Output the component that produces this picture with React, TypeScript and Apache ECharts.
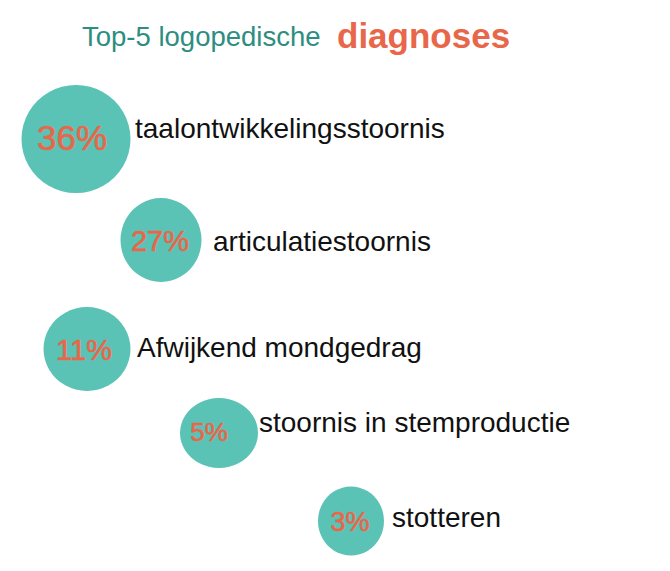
import React, { useEffect, useRef } from "react";
import * as echarts from "echarts";

// ---- data ----
const categories = [
  "taalontwikkelingsstoornis",
  "articulatiestoornis",
  "Afwijkend mondgedrag",
  "stoornis in stemproductie",
  "stotteren",
];
const percentages = [36, 27, 11, 5, 3];
const titleMain = "Top-5 logopedische";
const titleAccent = "diagnoses";

// ---- layout (pixel-units of the hidden axes) ----
const bubbleX = [76, 161, 87, 219, 351];
const bubbleY = [139, 240, 349, 433, 521];
const bubbleW = [109, 81, 87, 78, 66];
const bubbleH = [108, 84, 84, 70, 69];
const pctX = [72, 160, 84, 209, 350];
const pctY = [137, 240.5, 350, 432, 522];
const pctFont = [35, 29, 29, 26, 27];
const labelX = [135, 213, 137, 259, 392];
const labelY = [128.5, 241.5, 347.5, 422.5, 517.5];

const W = 670;
const H = 571;
const FONT = "'Liberation Sans', Arial, Helvetica, sans-serif";
const TEAL = "#5bc2b6";
const TEAL_DARK = "#2e8d81";
const ORANGE = "#e8674a";

export default function App() {
  const ref = useRef<HTMLDivElement>(null);

  useEffect(() => {
    if (!ref.current) return;
    const chart = echarts.init(ref.current, undefined, { renderer: "svg" });

    const option = {
      animation: false,
      backgroundColor: "#ffffff",
      grid: { left: 0, right: 0, top: 0, bottom: 0 },
      xAxis: { type: "value", min: 0, max: W, show: false },
      yAxis: { type: "value", min: 0, max: H, inverse: true, show: false },
      graphic: [
        {
          type: "text",
          x: 82,
          y: 36.5,
          style: {
            text: titleMain,
            fill: TEAL_DARK,
            font: `normal 27.5px ${FONT}`,
            align: "left",
            verticalAlign: "middle",
          },
        },
        {
          type: "text",
          x: 337,
          y: 35,
          style: {
            text: titleAccent,
            fill: ORANGE,
            font: `bold 35px ${FONT}`,
            align: "left",
            verticalAlign: "middle",
          },
        },
      ],
      series: [
        {
          type: "scatter",
          silent: true,
          symbol: "circle",
          data: percentages.map((v, i) => ({
            name: categories[i],
            value: [bubbleX[i], bubbleY[i], v],
            symbolSize: [bubbleW[i], bubbleH[i]],
          })),
          itemStyle: { color: TEAL, opacity: 1 },
          z: 1,
        },
        {
          type: "scatter",
          silent: true,
          symbolSize: 0,
          data: percentages.map((v, i) => ({
            name: categories[i],
            value: [pctX[i], pctY[i], v],
            label: { fontSize: pctFont[i] },
          })),
          itemStyle: { color: ORANGE, opacity: 1 },
          label: {
            show: true,
            position: "inside",
            formatter: (p: any) => `${p.value[2]}%`,
            color: ORANGE,
            fontWeight: "normal",
            textBorderColor: ORANGE,
            textBorderWidth: 0.6,
            fontFamily: FONT,
            align: "center",
            verticalAlign: "middle",
          },
          z: 3,
        },
        {
          type: "scatter",
          silent: true,
          symbolSize: 0,
          data: categories.map((c, i) => ({
            name: c,
            value: [labelX[i], labelY[i]],
          })),
          itemStyle: { color: "#111111", opacity: 1 },
          label: {
            show: true,
            position: "right",
            distance: 0,
            formatter: (p: any) => p.name,
            color: "#111111",
            textBorderWidth: 0,
            fontSize: 28,
            fontFamily: FONT,
            verticalAlign: "middle",
          },
          z: 3,
        },
      ],
    };

    chart.setOption(option as any);
    return () => chart.dispose();
  }, []);

  return (
    <div
      ref={ref}
      style={{ position: "fixed", left: 0, top: 0, width: W, height: H, background: "#fff" }}
    />
  );
}
